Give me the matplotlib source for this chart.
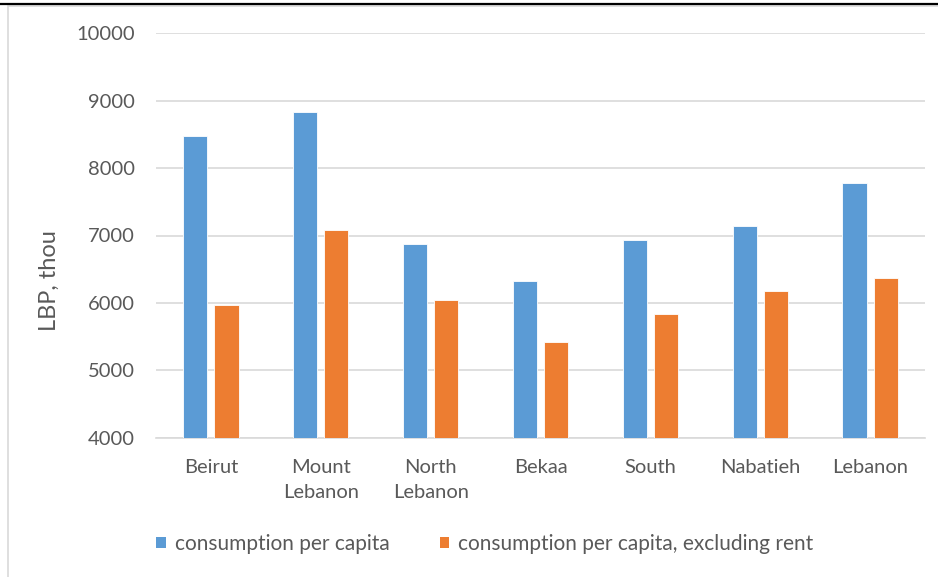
import matplotlib
matplotlib.use("Agg")
import matplotlib.pyplot as plt
from matplotlib.patches import Rectangle, Patch
from matplotlib.lines import Line2D
import numpy as np

regions = ["Beirut", "Mount\nLebanon", "North\nLebanon", "Bekaa", "South", "Nabatieh", "Lebanon"]
consumption = [8470, 8830, 6875, 6325, 6930, 7140, 7775]
consumption_no_rent = [5970, 7085, 6040, 5415, 5830, 6180, 6375]
series_names = ["consumption per capita", "consumption per capita, excluding rent"]
yticks = [4000, 5000, 6000, 7000, 8000, 9000, 10000]

blue = "#5b9bd5"
orange = "#ed7d31"
text_grey = "#595959"
grid_grey = "#d9d9d9"

plt.rcParams["font.family"] = ["Lato", "DejaVu Sans"]

fig = plt.figure(figsize=(9.38, 5.77), dpi=100)
fig.patch.set_facecolor("white")

# outer chart frame and rule above it
fig.add_artist(Rectangle((8 / 938, -0.05), 1.2, 1 - 6 / 577 + 0.05,
                         transform=fig.transFigure, facecolor="none",
                         edgecolor=grid_grey, linewidth=1.2, zorder=-1))
fig.add_artist(Line2D([0, 1], [1 - 4.3 / 577] * 2, transform=fig.transFigure,
                      color="black", linewidth=1.6))

ax = fig.add_axes([156 / 938, 1 - 437.7 / 577, 769 / 938, (437.7 - 33.3) / 577])
ax.set_facecolor("none")

x = np.arange(len(regions))
w = 0.22
off = 0.142
ax.bar(x - off, consumption, width=w, color=blue, edgecolor="white",
       linewidth=0.6, zorder=3, label=series_names[0])
ax.bar(x + off, consumption_no_rent, width=w, color=orange, edgecolor="white",
       linewidth=0.6, zorder=3, label=series_names[1])

ax.set_xlim(-0.5, len(regions) - 0.5)
ax.set_ylim(4000, 10000)
ax.set_yticks(yticks)
ax.set_yticklabels([str(v) for v in yticks], fontsize=14.5, color=text_grey)
ax.set_xticks(x)
ax.set_xticklabels(regions, fontsize=14.5, color=text_grey, linespacing=1.6)
ax.tick_params(axis="both", length=0)
ax.tick_params(axis="y", pad=15)
ax.tick_params(axis="x", pad=15)
ax.grid(axis="y", color=grid_grey, linewidth=1.2, zorder=0)
for s in ["top", "right", "left"]:
    ax.spines[s].set_visible(False)
ax.spines["bottom"].set_color(grid_grey)
ax.spines["bottom"].set_linewidth(1.2)

fig.text(49 / 938, 1 - 280.5 / 577, "LBP, thou", rotation=90, ha="center", va="center",
         fontsize=17, color=text_grey)

handles = [Patch(facecolor=blue), Patch(facecolor=orange)]
fig.legend(handles, series_names, loc="center", bbox_to_anchor=(485 / 938, 1 - 544 / 577),
           ncol=2, frameon=False, fontsize=15, labelcolor=text_grey,
           handlelength=0.45, handleheight=0.45, handletextpad=0.45, columnspacing=2.4)

fig.savefig("out.png", dpi=100)
